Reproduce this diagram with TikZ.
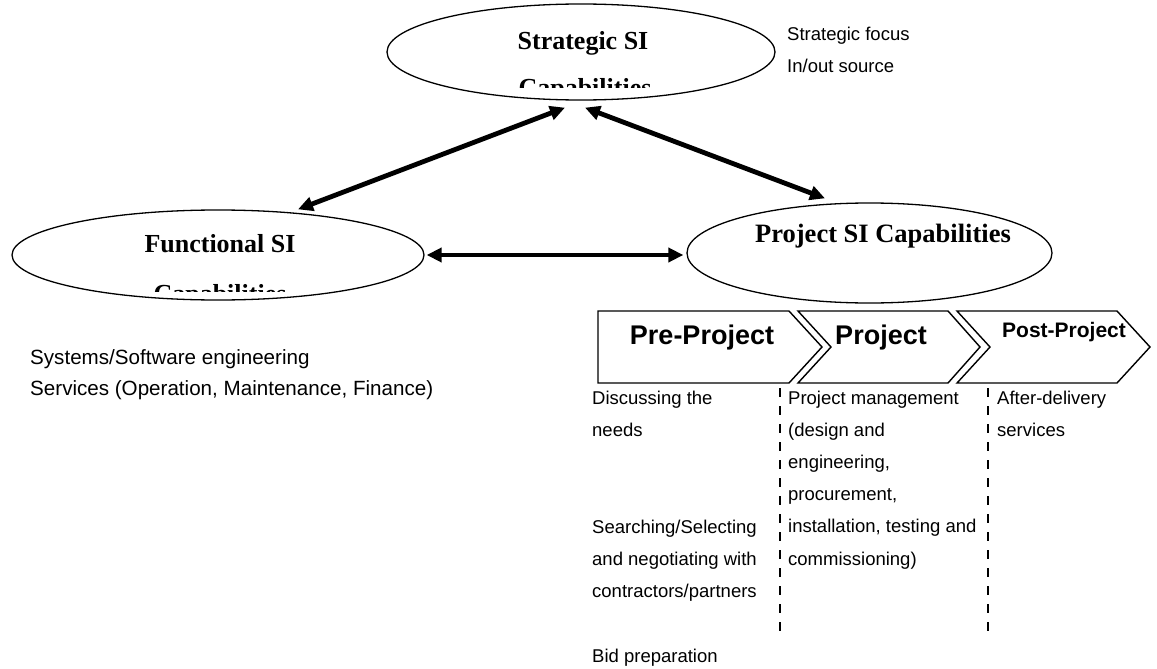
\documentclass[tikz,border=0pt]{standalone}
\usepackage{fontspec}
\setmainfont{Liberation Serif}
\setsansfont{Liberation Sans}
\usetikzlibrary{arrows.meta,shapes.geometric}

\begin{document}
\begin{tikzpicture}[x=1pt,y=-1pt,
  capell/.style={ellipse, draw, line width=1.3pt, inner sep=0pt},
  captext/.style={font=\fontsize{26}{30}\selectfont\bfseries, anchor=base, inner sep=0pt},
  biarrow/.style={{Triangle[length=15pt,width=14pt]}-{Triangle[length=15pt,width=14pt]}, line width=4.8pt},
  % multi-line notes are placed by the baseline of their last line
  note/.style={font=\sffamily\fontsize{18.5}{32.2}\selectfont, anchor=base west, inner sep=0pt, align=left},
  phase/.style={draw, line width=1.4pt, line join=miter},
  phasetext/.style={font=\sffamily\bfseries, anchor=base, inner sep=0pt},
  divider/.style={line width=1.4pt, dash pattern=on 9pt off 9pt}]
\useasboundingbox (0,0) rectangle (1157,669);

% the three capability areas
\node[capell, minimum width=388pt, minimum height=96pt] (strat) at (581,52) {};
\node[capell, minimum width=412pt, minimum height=90pt] (func) at (218,255) {};
\node[capell, minimum width=365pt, minimum height=100pt] (proj) at (869.5,253) {};

% ellipse labels; the second lines are cut off by the ellipse box
\node[captext] (stratA) at (583,50) {Strategic SI};
\begin{scope}
  \clip (450,60) rectangle (720,88);
  \node[captext] (stratB) at (585,96) {Capabilities};
\end{scope}
\node[captext] (funcA) at (220,252.5) {Functional SI};
\begin{scope}
  \clip (100,262) rectangle (340,291);
  \node[captext] (funcB) at (220,302.5) {Capabilities};
\end{scope}
\node[captext, font=\fontsize{26.5}{30}\selectfont\bfseries] (projA) at (883,242.5) {Project SI Capabilities};

% links between the areas
\draw[biarrow] ([xshift=-16pt,yshift=-7pt]strat.south) -- ([xshift=80pt]func.north);
\draw[biarrow] ([xshift=4pt,yshift=-7pt]strat.south) -- ([xshift=-44.5pt,yshift=4pt]proj.north);
\draw[biarrow] ([xshift=2pt]func.east) -- ([xshift=-3pt]func.east -| proj.west);

% side notes
\node[note] (stratnote) at (787,73) {Strategic focus\\In/out source};
\node[note, font=\sffamily\fontsize{20.6}{31}\selectfont] (funcnote) at (30,395) {Systems/Software engineering\\Services (Operation, Maintenance, Finance)};

% project phases
\draw[phase] (598,311) -- (789,311) -- (822,347) -- (789,383) -- (598,383) -- cycle;
\draw[phase] (798,311) -- (948,311) -- (980,347) -- (948,383) -- (798,383) -- (831,347) -- cycle;
\draw[phase] (957,311) -- (1117,311) -- (1150,347) -- (1117,383) -- (957,383) -- (990,347) -- cycle;
\node[phasetext, font=\sffamily\bfseries\fontsize{27}{30}\selectfont] (pre) at (702,344) {Pre-Project};
\node[phasetext, font=\sffamily\bfseries\fontsize{27}{30}\selectfont] (mid) at (881,344) {Project};
\node[phasetext, font=\sffamily\bfseries\fontsize{21}{24}\selectfont] (post) at (1064,337) {Post-Project};

% phase activities
\node[note] (preA) at (592,436.2) {Discussing the\\needs};
\node[note] (preB) at (592,597.4) {Searching/Selecting\\and negotiating with\\contractors/partners};
\node[note] (preC) at (592,662) {Bid preparation};
\node[note] (midA) at (788,565) {Project management\\(design and\\engineering,\\procurement,\\installation, testing and\\commissioning)};
\node[note] (postA) at (997,436.2) {After-delivery\\services};

\coordinate (divAtop) at (780,388);
\coordinate (divAbot) at (780,632);
\coordinate (divBtop) at (988,388);
\coordinate (divBbot) at (988,632);
\draw[divider] (divAtop) -- (divAbot);
\draw[divider] (divBtop) -- (divBbot);
\end{tikzpicture}
\end{document}
